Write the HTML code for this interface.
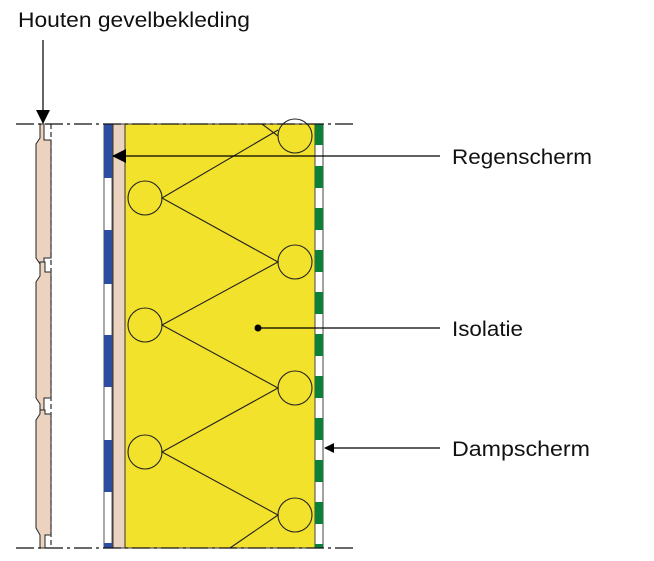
<!DOCTYPE html><html><head><style>body{margin:0;background:#fff}svg{display:block}text{font-family:"Liberation Sans",sans-serif;font-size:21px;fill:#111}</style></head><body>
<svg width="654" height="561" viewBox="0 0 654 561">
<defs><marker id="a" markerWidth="10" markerHeight="10" refX="9" refY="5" orient="auto" markerUnits="userSpaceOnUse"><path d="M0,0 L10,5 L0,10z" fill="#000"/></marker>
<marker id="b" markerWidth="14" markerHeight="14" refX="13" refY="7" orient="auto" markerUnits="userSpaceOnUse"><path d="M0,0 L14,7 L0,14z" fill="#000"/></marker></defs>
<g fill="#ebd3c0" stroke="#222" stroke-width="1">
<path d="M40,124 V138 L36,144 V258 L40,264 V270 L44,270 V258 L51,258 V140 L44,140 V124z"/>
<path d="M40,262 H45 V272 L51,272 V398 L44,398 V410 H40 V404 L36,398 V282 L40,276 Z"/>
<path d="M40,410 H45 V414 L51,414 V535 L45,535 V548 H40 V535 L36,528 V420 L40,414 Z"/>
</g>
<line x1="51" y1="124" x2="51" y2="548" stroke="#555" stroke-width="1.5" stroke-dasharray="5,3"/>
<rect x="104" y="124" width="8" height="424" fill="#fff" stroke="#555"/>
<g fill="#2d4e9e"><rect x="104" y="124" width="8" height="54"/><rect x="104" y="230" width="8" height="54"/><rect x="104" y="335" width="8" height="52"/><rect x="104" y="440" width="8" height="52"/><rect x="104" y="543" width="8" height="5"/></g>
<rect x="113" y="124" width="12" height="424" fill="#ebd3c0" stroke="#333"/>
<rect x="125" y="124" width="190" height="424" fill="#f3e22c" stroke="#333"/>
<rect x="315" y="124" width="8" height="424" fill="#fff" stroke="#444"/>
<g fill="#0a8038">
<rect x="315" y="124" width="8" height="21"/><rect x="315" y="166" width="8" height="22"/><rect x="315" y="208" width="8" height="22"/><rect x="315" y="250" width="8" height="22"/><rect x="315" y="292" width="8" height="22"/><rect x="315" y="334" width="8" height="22"/><rect x="315" y="376" width="8" height="22"/><rect x="315" y="418" width="8" height="22"/><rect x="315" y="460" width="8" height="22"/><rect x="315" y="502" width="8" height="22"/><rect x="315" y="544" width="8" height="4"/></g>
<g fill="none" stroke="#222" stroke-width="1.1">
<polyline points="262,124 278,136"/>
<polyline points="278,130 162,198 278,262 162,325 278,388 162,452 278,515 230,548"/>
<circle cx="295" cy="136" r="17"/><circle cx="295" cy="262" r="17"/><circle cx="295" cy="388" r="17"/><circle cx="295" cy="515" r="17"/>
<circle cx="145" cy="198" r="17"/><circle cx="145" cy="325" r="17"/><circle cx="145" cy="452" r="17"/>
</g>
<g stroke="#111" stroke-width="1.2" stroke-dasharray="18,4,3,4">
<line x1="16" y1="124" x2="355" y2="124"/><line x1="16" y1="548" x2="355" y2="548"/></g>
<g stroke="#000" stroke-width="1.2">
<line x1="43" y1="40" x2="43" y2="123" marker-end="url(#b)"/>
<line x1="440" y1="156" x2="113" y2="156" marker-end="url(#b)"/>
<line x1="258" y1="328" x2="440" y2="328"/>
<line x1="440" y1="448" x2="325" y2="448" marker-end="url(#a)"/>
</g>
<circle cx="258" cy="328" r="3.5" fill="#000"/>
<text x="18" y="27" textLength="232" lengthAdjust="spacingAndGlyphs">Houten gevelbekleding</text>
<text x="452" y="164" textLength="140" lengthAdjust="spacingAndGlyphs">Regenscherm</text>
<text x="452" y="336" textLength="71" lengthAdjust="spacingAndGlyphs">Isolatie</text>
<text x="452" y="456" textLength="138" lengthAdjust="spacingAndGlyphs">Dampscherm</text>
</svg></body></html>
